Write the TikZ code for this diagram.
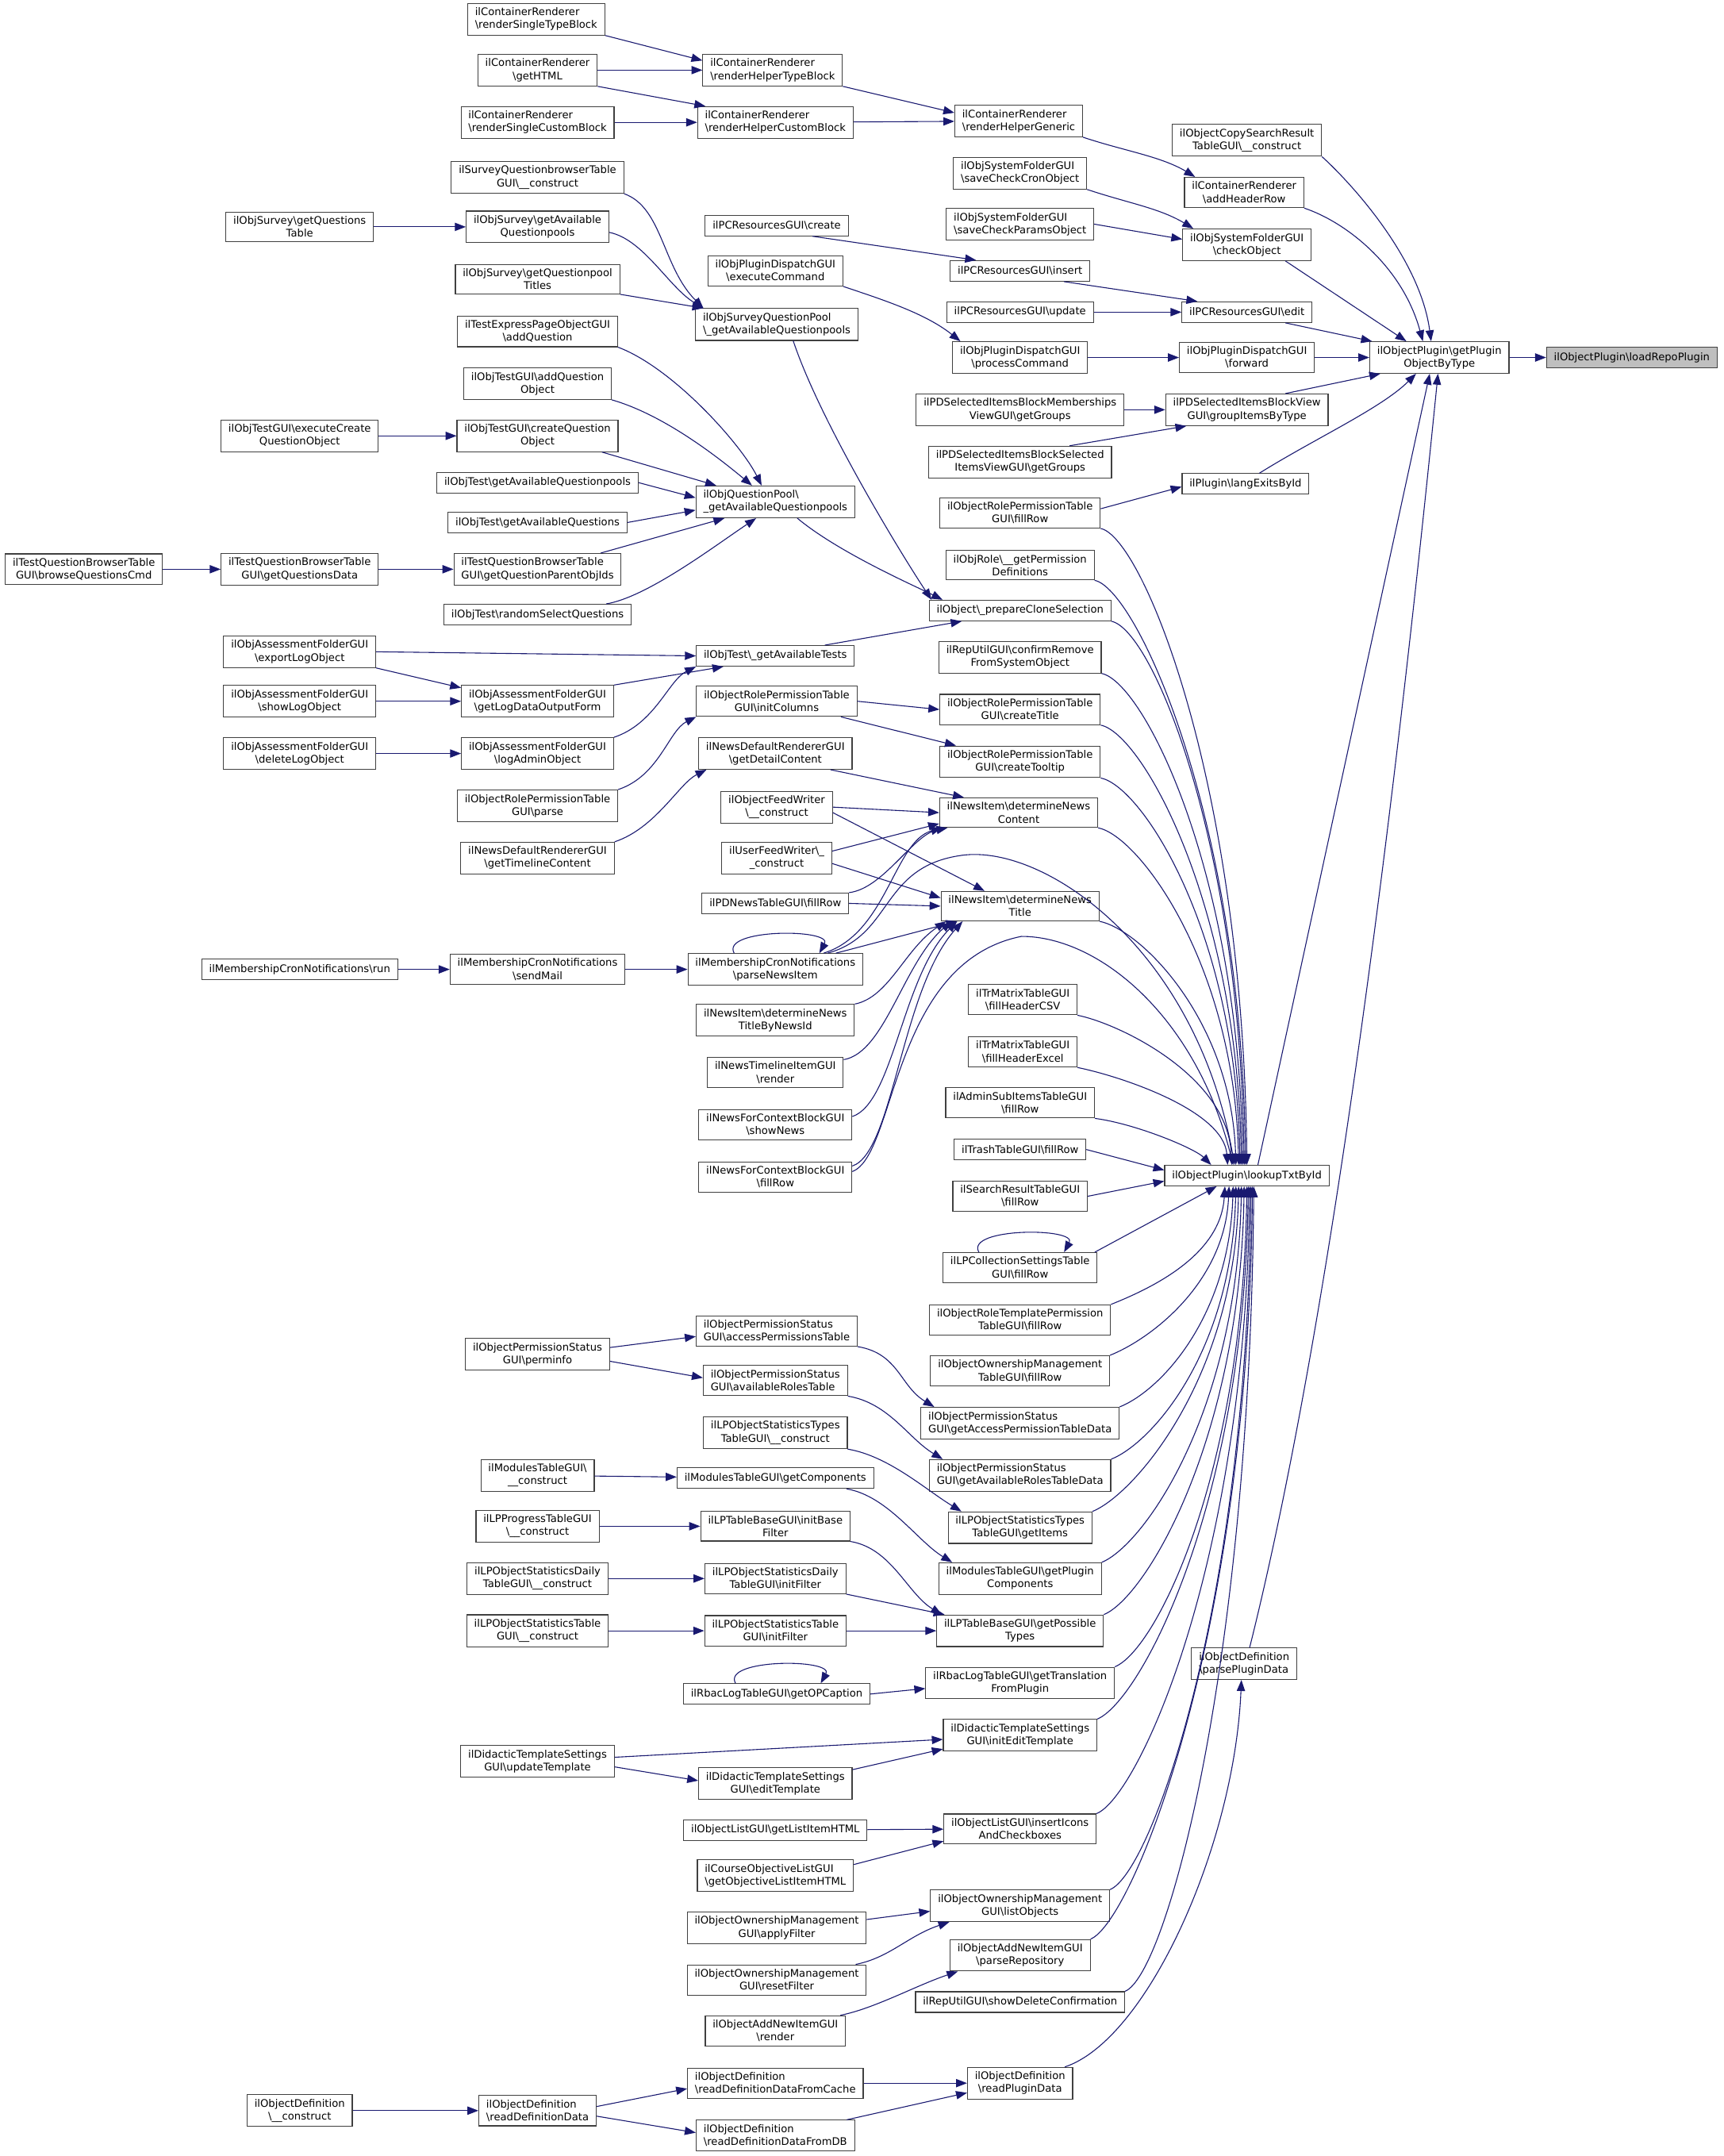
\documentclass[tikz,border=0pt]{standalone}
\usepackage{fontspec}
\setmainfont{DejaVu Sans}
\usetikzlibrary{arrows.meta}
\definecolor{mblau}{HTML}{191970}
\definecolor{rand}{HTML}{404040}
\definecolor{fokus}{HTML}{BFBFBF}
\newcommand{\bs}{\textbackslash}
\begin{document}
\begin{tikzpicture}[x=0.05cm, y=-0.05cm,
    fn/.style={draw=rand, line width=0.9pt, fill=white, align=center,
      font=\fontsize{10.8}{13.2}\selectfont, inner xsep=0.27cm, inner ysep=4.5pt,
      minimum height=0.75cm},
    fnl/.style={fn, align=left},
    fokusfn/.style={fn, fill=fokus},
    kante/.style={-{Triangle[length=0.4cm,width=0.3cm]}, mblau, line width=0.9pt}]
    \useasboundingbox (0,0) rectangle (1254,1568);

    % Zielfunktion und getPluginObjectByType
    \node[fokusfn] (load) at (1187,260) {ilObjectPlugin\bs loadRepoPlugin};
    \node[fn] (getobj) at (1047,260) {ilObjectPlugin\bs getPlugin\\ObjectByType};

    % Spalte 2
    \node[fn] (copysr) at (907,102) {ilObjectCopySearchResult\\TableGUI\bs\_\_construct};
    \node[fn] (addhdr) at (905,140) {ilContainerRenderer\\\bs addHeaderRow};
    \node[fn] (checkobj) at (907,178) {ilObjSystemFolderGUI\\\bs checkObject};
    \node[fn] (pcedit) at (907,227) {ilPCResourcesGUI\bs edit};
    \node[fn] (forward) at (907,260) {ilObjPluginDispatchGUI\\\bs forward};
    \node[fn] (groupitems) at (907,298) {ilPDSelectedItemsBlockView\\GUI\bs groupItemsByType};
    \node[fn] (langexits) at (906,352) {ilPlugin\bs langExitsById};
    \node[fn] (lookup) at (907,855) {ilObjectPlugin\bs lookupTxtById};
    \node[fnl] (parseplug) at (905,1210) {ilObjectDefinition\\\bs parsePluginData};

    % Spalte 3
    \node[fnl] (rendgen) at (741,88) {ilContainerRenderer\\\bs renderHelperGeneric};
    \node[fnl] (savecron) at (742,126) {ilObjSystemFolderGUI\\\bs saveCheckCronObject};
    \node[fnl] (saveparams) at (742,163) {ilObjSystemFolderGUI\\\bs saveCheckParamsObject};
    \node[fn] (pcinsert) at (742,197) {ilPCResourcesGUI\bs insert};
    \node[fn] (pcupdate) at (742,227) {ilPCResourcesGUI\bs update};
    \node[fn] (proccmd) at (742,260) {ilObjPluginDispatchGUI\\\bs processCommand};
    \node[fn] (memgroups) at (742,298) {ilPDSelectedItemsBlockMemberships\\ViewGUI\bs getGroups};
    \node[fn] (selgroups) at (742,336) {ilPDSelectedItemsBlockSelected\\ItemsViewGUI\bs getGroups};
    \node[fn] (rpfillrow) at (742,373) {ilObjectRolePermissionTable\\GUI\bs fillRow};
    \node[fn] (getpermdef) at (742,411) {ilObjRole\bs\_\_getPermission\\Definitions};
    \node[fn] (clonesel) at (742,444) {ilObject\bs\_prepareCloneSelection};
    \node[fn] (confirmrm) at (742,478) {ilRepUtilGUI\bs confirmRemove\\FromSystemObject};
    \node[fn] (createtitle) at (742,516) {ilObjectRolePermissionTable\\GUI\bs createTitle};
    \node[fn] (createtip) at (742,554) {ilObjectRolePermissionTable\\GUI\bs createTooltip};
    \node[fn] (newscontent) at (741,591) {ilNewsItem\bs determineNews\\Content};
    \node[fn] (newstitle) at (742,659) {ilNewsItem\bs determineNews\\Title};
    \node[fn] (hdrcsv) at (744,727) {ilTrMatrixTableGUI\\\bs fillHeaderCSV};
    \node[fn] (hdrexcel) at (744,765) {ilTrMatrixTableGUI\\\bs fillHeaderExcel};
    \node[fn] (adminfill) at (742,802) {ilAdminSubItemsTableGUI\\\bs fillRow};
    \node[fn] (trashfill) at (742,836) {ilTrashTableGUI\bs fillRow};
    \node[fn] (searchfill) at (742,870) {ilSearchResultTableGUI\\\bs fillRow};
    \node[fn] (lpcollfill) at (742,922) {ilLPCollectionSettingsTable\\GUI\bs fillRow};
    \node[fn] (rtplfill) at (742,960) {ilObjectRoleTemplatePermission\\TableGUI\bs fillRow};
    \node[fn] (ownfill) at (742,997) {ilObjectOwnershipManagement\\TableGUI\bs fillRow};
    \node[fnl] (accessdata) at (742,1035) {ilObjectPermissionStatus\\GUI\bs getAccessPermissionTableData};
    \node[fnl] (rolesdata) at (742,1073) {ilObjectPermissionStatus\\GUI\bs getAvailableRolesTableData};
    \node[fn] (statitems) at (742,1111) {ilLPObjectStatisticsTypes\\TableGUI\bs getItems};
    \node[fn] (plugincomp) at (742,1148) {ilModulesTableGUI\bs getPlugin\\Components};
    \node[fn] (posstypes) at (742,1186) {ilLPTableBaseGUI\bs getPossible\\Types};
    \node[fn] (transplug) at (742,1224) {ilRbacLogTableGUI\bs getTranslation\\FromPlugin};
    \node[fn] (initedit) at (742,1262) {ilDidacticTemplateSettings\\GUI\bs initEditTemplate};
    \node[fn] (inserticons) at (742,1330) {ilObjectListGUI\bs insertIcons\\AndCheckboxes};
    \node[fn] (listobjs) at (742,1386) {ilObjectOwnershipManagement\\GUI\bs listObjects};
    \node[fn] (parserepo) at (742,1422) {ilObjectAddNewItemGUI\\\bs parseRepository};
    \node[fn] (showdel) at (742,1456) {ilRepUtilGUI\bs showDeleteConfirmation};
    \node[fn] (readplug) at (742,1515) {ilObjectDefinition\\\bs readPluginData};

    % Spalte 4
    \node[fnl] (rendtype) at (562,51) {ilContainerRenderer\\\bs renderHelperTypeBlock};
    \node[fnl] (rendcustom) at (564,89) {ilContainerRenderer\\\bs renderHelperCustomBlock};
    \node[fn] (pccreate) at (565,164) {ilPCResourcesGUI\bs create};
    \node[fn] (execcmd) at (564,197) {ilObjPluginDispatchGUI\\\bs executeCommand};
    \node[fnl] (svyqpools) at (565,236) {ilObjSurveyQuestionPool\\\bs\_getAvailableQuestionpools};
    \node[fnl] (qpools) at (564,365) {ilObjQuestionPool\bs\\\_getAvailableQuestionpools};
    \node[fn] (availtests) at (564,477) {ilObjTest\bs\_getAvailableTests};
    \node[fn] (initcols) at (565,510) {ilObjectRolePermissionTable\\GUI\bs initColumns};
    \node[fn] (detailcont) at (564,548) {ilNewsDefaultRendererGUI\\\bs getDetailContent};
    \node[fn] (objfeed) at (565,587) {ilObjectFeedWriter\\\bs\_\_construct};
    \node[fn] (userfeed) at (565,624) {ilUserFeedWriter\bs\_\\\_construct};
    \node[fn] (pdnewsfill) at (564,657) {ilPDNewsTableGUI\bs fillRow};
    \node[fn] (parsenews) at (564,705) {ilMembershipCronNotifications\\\bs parseNewsItem};
    \node[fn] (titlebyid) at (564,742) {ilNewsItem\bs determineNews\\TitleByNewsId};
    \node[fn] (timeline) at (564,780) {ilNewsTimelineItemGUI\\\bs render};
    \node[fn] (shownews) at (564,818) {ilNewsForContextBlockGUI\\\bs showNews};
    \node[fn] (ctxfill) at (564,856) {ilNewsForContextBlockGUI\\\bs fillRow};
    \node[fnl] (accesstab) at (565,968) {ilObjectPermissionStatus\\GUI\bs accessPermissionsTable};
    \node[fnl] (rolestab) at (564,1004) {ilObjectPermissionStatus\\GUI\bs availableRolesTable};
    \node[fn] (statconstr) at (564,1042) {ilLPObjectStatisticsTypes\\TableGUI\bs\_\_construct};
    \node[fn] (getcomp) at (564,1075) {ilModulesTableGUI\bs getComponents};
    \node[fn] (initbase) at (564,1110) {ilLPTableBaseGUI\bs initBase\\Filter};
    \node[fn] (dailyinit) at (564,1148) {ilLPObjectStatisticsDaily\\TableGUI\bs initFilter};
    \node[fn] (tableinit) at (564,1186) {ilLPObjectStatisticsTable\\GUI\bs initFilter};
    \node[fn] (opcaption) at (565,1232) {ilRbacLogTableGUI\bs getOPCaption};
    \node[fn] (edittpl) at (564,1297) {ilDidacticTemplateSettings\\GUI\bs editTemplate};
    \node[fn] (listitem) at (564,1331) {ilObjectListGUI\bs getListItemHTML};
    \node[fnl] (objlistitem) at (564,1364) {ilCourseObjectiveListGUI\\\bs getObjectiveListItemHTML};
    \node[fn] (applyfilt) at (565,1402) {ilObjectOwnershipManagement\\GUI\bs applyFilter};
    \node[fn] (resetfilt) at (565,1440) {ilObjectOwnershipManagement\\GUI\bs resetFilter};
    \node[fn] (addrender) at (564,1477) {ilObjectAddNewItemGUI\\\bs render};
    \node[fnl] (defcache) at (564,1515) {ilObjectDefinition\\\bs readDefinitionDataFromCache};
    \node[fnl] (defdb) at (564,1553) {ilObjectDefinition\\\bs readDefinitionDataFromDB};

    % Spalte 5
    \node[fnl] (singletype) at (390,14) {ilContainerRenderer\\\bs renderSingleTypeBlock};
    \node[fn] (gethtml) at (391,51) {ilContainerRenderer\\\bs getHTML};
    \node[fnl] (singlecustom) at (391,89) {ilContainerRenderer\\\bs renderSingleCustomBlock};
    \node[fn] (svybrowser) at (391,129) {ilSurveyQuestionbrowserTable\\GUI\bs\_\_construct};
    \node[fn] (svyavail) at (391,165) {ilObjSurvey\bs getAvailable\\Questionpools};
    \node[fn] (svytitles) at (391,203) {ilObjSurvey\bs getQuestionpool\\Titles};
    \node[fn] (expressadd) at (391,241) {ilTestExpressPageObjectGUI\\\bs addQuestion};
    \node[fn] (addqobj) at (391,279) {ilObjTestGUI\bs addQuestion\\Object};
    \node[fn] (createqobj) at (391,317) {ilObjTestGUI\bs createQuestion\\Object};
    \node[fn] (testqpools) at (391,351) {ilObjTest\bs getAvailableQuestionpools};
    \node[fn] (testquest) at (391,380) {ilObjTest\bs getAvailableQuestions};
    \node[fnl] (parentids) at (391,414) {ilTestQuestionBrowserTable\\GUI\bs getQuestionParentObjIds};
    \node[fn] (randsel) at (391,447) {ilObjTest\bs randomSelectQuestions};
    \node[fn] (logform) at (391,510) {ilObjAssessmentFolderGUI\\\bs getLogDataOutputForm};
    \node[fn] (logadmin) at (391,548) {ilObjAssessmentFolderGUI\\\bs logAdminObject};
    \node[fn] (rpparse) at (391,586) {ilObjectRolePermissionTable\\GUI\bs parse};
    \node[fn] (timelinecont) at (391,624) {ilNewsDefaultRendererGUI\\\bs getTimelineContent};
    \node[fn] (sendmail) at (391,705) {ilMembershipCronNotifications\\\bs sendMail};
    \node[fn] (perminfo) at (391,985) {ilObjectPermissionStatus\\GUI\bs perminfo};
    \node[fn] (modconstr) at (391,1073) {ilModulesTableGUI\bs\\\_\_construct};
    \node[fn] (progconstr) at (391,1110) {ilLPProgressTableGUI\\\bs\_\_construct};
    \node[fn] (dailyconstr) at (391,1148) {ilLPObjectStatisticsDaily\\TableGUI\bs\_\_construct};
    \node[fn] (tableconstr) at (391,1186) {ilLPObjectStatisticsTable\\GUI\bs\_\_construct};
    \node[fn] (updtpl) at (391,1281) {ilDidacticTemplateSettings\\GUI\bs updateTemplate};
    \node[fnl] (readdef) at (391,1535) {ilObjectDefinition\\\bs readDefinitionData};

    % Spalte 6 und 7
    \node[fn] (qtable) at (218,165) {ilObjSurvey\bs getQuestions\\Table};
    \node[fn] (execcreate) at (218,317) {ilObjTestGUI\bs executeCreate\\QuestionObject};
    \node[fn] (qdata) at (218,414) {ilTestQuestionBrowserTable\\GUI\bs getQuestionsData};
    \node[fn] (exportlog) at (218,474) {ilObjAssessmentFolderGUI\\\bs exportLogObject};
    \node[fn] (showlog) at (218,510) {ilObjAssessmentFolderGUI\\\bs showLogObject};
    \node[fn] (deletelog) at (218,548) {ilObjAssessmentFolderGUI\\\bs deleteLogObject};
    \node[fn] (cronrun) at (218,705) {ilMembershipCronNotifications\bs run};
    \node[fn] (defconstr) at (218,1535) {ilObjectDefinition\\\bs\_\_construct};
    \node[fn] (browsecmd) at (61,414) {ilTestQuestionBrowserTable\\GUI\bs browseQuestionsCmd};

    % Kanten zu getPluginObjectByType
    \draw[kante] (getobj) -- (load);
    \draw[kante] (copysr.south east) .. controls +(22,20) and +(-8,-60) .. ([xshift=-0.3cm]getobj.north);
    \draw[kante] (addhdr.south east) .. controls +(30,10) and +(-15,-55) .. ([xshift=-0.6cm]getobj.north);
    \draw[kante] ([xshift=1.4cm]checkobj.south) -- ([xshift=-1.2cm]getobj.north);
    \draw[kante] ([xshift=1.4cm]pcedit.south) -- ([xshift=0.1cm]getobj.north west);
    \draw[kante] (forward) -- (getobj);
    \draw[kante] ([xshift=1.4cm]groupitems.north) -- ([xshift=0.4cm]getobj.south west);
    \draw[kante] ([xshift=0.5cm]langexits.north) .. controls +(40,-25) and +(-25,25) .. ([xshift=-0.85cm]getobj.south);
    \draw[kante] ([xshift=0.4cm]lookup.north) -- ([xshift=-0.35cm]getobj.south);
    \draw[kante] ([xshift=0.2cm]parseplug.north) .. controls +(65,-260) and +(-25,250) .. ([xshift=-0.05cm]getobj.south);

    % Spalte 3 -> Spalte 2
    \draw[kante] (rendgen.south east) .. controls +(30,10) and +(-25,-15) .. ([xshift=0.4cm]addhdr.north west);
    \draw[kante] (savecron.south east) .. controls +(30,10) and +(-25,-15) .. ([xshift=0.4cm]checkobj.north west);
    \draw[kante] (saveparams.east) -- ([yshift=0.2cm]checkobj.west);
    \draw[kante] ([xshift=1.6cm]pcinsert.south) -- ([xshift=-1.8cm]pcedit.north);
    \draw[kante] (pcupdate) -- (pcedit);
    \draw[kante] (proccmd) -- (forward);
    \draw[kante] (memgroups) -- (groupitems);
    \draw[kante] ([xshift=1.8cm]selgroups.north) -- ([xshift=-2.2cm]groupitems.south);
    \draw[kante] ([yshift=0.15cm]rpfillrow.east) -- ([yshift=-0.1cm]langexits.west);
    \draw[kante] ([xshift=-0.3cm]readplug.north east) .. controls +(60,-20) and +(-5,120) .. ([xshift=-0.1cm]parseplug.south);

    % Kanten zu lookupTxtById
    \foreach \q/\dx/\h in {rpfillrow/0/280, getpermdef/-0.05/255, clonesel/-0.1/235,
        confirmrm/-0.15/215, createtitle/-0.2/190, createtip/-0.25/170,
        newscontent/-0.3/145, newstitle/-0.4/105, hdrcsv/-0.55/65, hdrexcel/-0.7/40}
      \draw[kante] (\q.south east) .. controls +(30,6) and +(-3,-\h) .. ([xshift=\dx*1cm]lookup.north);
    \draw[kante] (adminfill.south east) .. controls +(30,4) and +(-12,-12) .. ([xshift=-1.3cm]lookup.north);
    \draw[kante] (trashfill.east) -- ([yshift=0.2cm]lookup.west);
    \draw[kante] (searchfill.east) -- ([yshift=-0.2cm]lookup.west);
    \draw[kante] ([xshift=-0.1cm]lpcollfill.north east) -- ([xshift=-1.1cm]lookup.south);
    \foreach \q/\dx/\h in {rtplfill/-0.8/50, ownfill/-0.65/70, accessdata/-0.5/95, rolesdata/-0.4/120,
        statitems/-0.3/140, plugincomp/-0.2/165, posstypes/-0.1/185, transplug/0/210,
        initedit/0.05/235, inserticons/0.1/275, listobjs/0.15/305, parserepo/0.2/330, showdel/0.25/350}
      \draw[kante] (\q.north east) .. controls +(30,-12) and +(-3,\h) .. ([xshift=\dx*1cm]lookup.south);
    \draw[kante] ([xshift=1.9cm]parsenews.north) .. controls (650,680) and (640,630) .. (700,622)
        .. controls (760,614) and (870,690) .. ([xshift=-0.45cm]lookup.north);
    \draw[kante] ([yshift=0.2cm]ctxfill.east) .. controls (652,840) and (648,700) .. (743,681)
        .. controls (800,681) and (870,740) .. ([xshift=-0.5cm]lookup.north);

    % Schleifen
    \draw[kante] ([xshift=-1.5cm]lpcollfill.north) .. controls +(-10,-18) and +(10,-18) .. ([xshift=1.6cm]lpcollfill.north);
    \draw[kante] ([xshift=-1.5cm]parsenews.north) .. controls +(-10,-18) and +(10,-18) .. ([xshift=1.6cm]parsenews.north);
    \draw[kante] ([xshift=-1.5cm]opcaption.north) .. controls +(-10,-18) and +(10,-18) .. ([xshift=1.6cm]opcaption.north);

    % Spalte 4 -> Spalte 3
    \draw[kante] (rendtype.south east) -- ([yshift=0.3cm]rendgen.west);
    \draw[kante] (rendcustom) -- (rendgen);
    \draw[kante] ([xshift=1.3cm]pccreate.south) -- ([xshift=-1.6cm]pcinsert.north);
    \draw[kante] (execcmd.south east) .. controls +(30,10) and +(-25,-20) .. ([xshift=0.3cm]proccmd.north west);
    \draw[kante] ([xshift=0.6cm]svyqpools.south) .. controls +(20,60) and +(-20,-30) .. ([xshift=0.1cm]clonesel.north west);
    \draw[kante] ([xshift=0.8cm]qpools.south) .. controls +(30,25) and +(-20,-10) .. ([xshift=0.5cm]clonesel.north west);
    \draw[kante] ([xshift=1.8cm]availtests.north) -- ([xshift=1.2cm]clonesel.south west);
    \draw[kante] (initcols.east) -- (createtitle.west);
    \draw[kante] ([xshift=-0.6cm]initcols.south east) -- ([xshift=0.6cm]createtip.north west);
    \draw[kante] ([xshift=-0.8cm]detailcont.south east) -- ([xshift=0.9cm]newscontent.north west);
    \draw[kante] (objfeed.east) -- (newscontent.west);
    \draw[kante] ([yshift=-0.2cm]objfeed.east) -- ([xshift=1.6cm]newstitle.north west);
    \draw[kante] ([yshift=0.25cm]userfeed.east) -- ([yshift=-0.4cm]newscontent.west);
    \draw[kante] ([yshift=-0.2cm]userfeed.east) -- ([yshift=0.3cm]newstitle.west);
    \draw[kante] (pdnewsfill.north east) .. controls +(25,-3) and +(-25,5) .. ([xshift=0.3cm]newscontent.south west);
    \draw[kante] (pdnewsfill.east) -- (newstitle.west);
    \draw[kante] ([xshift=1.75cm]parsenews.north) .. controls +(46,-14) and +(-35,10) .. ([xshift=0.1cm]newscontent.south west);
    \draw[kante] ([xshift=2.2cm]parsenews.north) -- ([xshift=0.6cm]newstitle.south west);
    \draw[kante] (titlebyid.north east) .. controls +(25,-5) and +(-30,20) .. ([xshift=0.2cm]newstitle.south west);
    \draw[kante] ([yshift=-0.1cm]timeline.north east) .. controls +(30,-5) and +(-35,30) .. ([xshift=0.4cm]newstitle.south west);
    \draw[kante] ([yshift=0.3cm]shownews.east) .. controls +(30,-10) and +(-40,40) .. ([xshift=0.6cm]newstitle.south west);
    \draw[kante] ([yshift=0.4cm]ctxfill.east) .. controls +(30,-10) and +(-45,50) .. ([xshift=0.8cm]newstitle.south west);
    \draw[kante] (accesstab.south east) .. controls +(30,5) and +(-25,-15) .. ([xshift=0.5cm]accessdata.north west);
    \draw[kante] (rolestab.south east) .. controls +(30,5) and +(-25,-15) .. ([xshift=0.5cm]rolesdata.north west);
    \draw[kante] (statconstr.south east) .. controls +(30,5) and +(-25,-15) .. ([xshift=0.5cm]statitems.north west);
    \draw[kante] ([xshift=-1cm]getcomp.south east) .. controls +(30,5) and +(-25,-15) .. ([xshift=0.5cm]plugincomp.north west);
    \draw[kante] (initbase.south east) .. controls +(30,5) and +(-25,-15) .. ([xshift=0.2cm]posstypes.north west);
    \draw[kante] (dailyinit.south east) -- ([xshift=0.3cm]posstypes.north west);
    \draw[kante] (tableinit) -- (posstypes);
    \draw[kante] (opcaption.east) -- ([yshift=-0.2cm]transplug.west);
    \draw[kante] ([yshift=0.5cm]edittpl.east) -- ([yshift=-0.5cm]initedit.west);
    \draw[kante] (listitem) -- (inserticons);
    \draw[kante] ([yshift=0.4cm]objlistitem.east) -- ([yshift=-0.45cm]inserticons.west);
    \draw[kante] ([yshift=0.3cm]applyfilt.east) -- ([yshift=-0.2cm]listobjs.west);
    \draw[kante] ([xshift=-0.4cm]resetfilt.north east) .. controls +(25,-5) and +(-30,10) .. ([xshift=0.7cm]listobjs.south west);
    \draw[kante] ([xshift=-0.2cm]addrender.north east) .. controls +(25,-5) and +(-30,10) .. ([xshift=0.3cm]parserepo.south west);
    \draw[kante] (defcache) -- (readplug);
    \draw[kante] ([xshift=-0.3cm]defdb.north east) -- ([yshift=-0.35cm]readplug.west);

    % Spalte 5 -> Spalte 4
    \draw[kante] (singletype.south east) -- ([yshift=0.35cm]rendtype.west);
    \draw[kante] (gethtml) -- (rendtype);
    \draw[kante] (gethtml.south east) -- ([xshift=0.3cm]rendcustom.north west);
    \draw[kante] (singlecustom) -- (rendcustom);
    \draw[kante] (svybrowser.south east) .. controls +(28,10) and +(-30,-30) .. ([xshift=0.3cm]svyqpools.north west);
    \draw[kante] ([yshift=-0.2cm]svyavail.east) .. controls +(25,5) and +(-25,-15) .. ([xshift=0.3cm]svyqpools.north west);
    \draw[kante] (svytitles.south east) -- ([xshift=0.3cm]svyqpools.north west);
    \draw[kante] (expressadd.south east) .. controls +(40,15) and +(-15,-30) .. ([xshift=-0.5cm]qpools.north);
    \draw[kante] (addqobj.south east) .. controls +(35,10) and +(-30,-25) .. ([xshift=-0.85cm]qpools.north);
    \draw[kante] ([xshift=-0.6cm]createqobj.south east) -- ([xshift=-2.15cm]qpools.north);
    \draw[kante] (testqpools.east) -- ([yshift=0.15cm]qpools.west);
    \draw[kante] (testquest.east) -- ([yshift=-0.3cm]qpools.west);
    \draw[kante] ([xshift=2.3cm]parentids.north) -- ([xshift=-1.85cm]qpools.south);
    \draw[kante] ([xshift=2.5cm]randsel.north) .. controls +(30,-5) and +(-30,20) .. ([xshift=-0.7cm]qpools.south);
    \draw[kante] (exportlog.east) -- (availtests.west);
    \draw[kante] (exportlog.south east) -- ([yshift=-0.1cm]logform.north west);
    \draw[kante] (showlog) -- (logform);
    \draw[kante] (deletelog) -- (logadmin);
    \draw[kante] (logform.north east) -- ([xshift=1cm]availtests.south west);
    \draw[kante] (logadmin.north east) .. controls +(30,-10) and +(-20,10) .. (availtests.south west);
    \draw[kante] (rpparse.north east) .. controls +(30,-10) and +(-20,10) .. (initcols.south west);
    \draw[kante] (timelinecont.north east) .. controls +(30,-10) and +(-20,10) .. ([xshift=0.3cm]detailcont.south west);
    \draw[kante] (sendmail) -- (parsenews);
    \draw[kante] ([yshift=0.25cm]perminfo.east) -- ([yshift=-0.2cm]accesstab.west);
    \draw[kante] ([yshift=-0.25cm]perminfo.east) -- ([yshift=0.1cm]rolestab.west);
    \draw[kante] (modconstr) -- (getcomp);
    \draw[kante] (progconstr) -- (initbase);
    \draw[kante] (dailyconstr) -- (dailyinit);
    \draw[kante] (tableconstr) -- (tableinit);
    \draw[kante] ([yshift=0.15cm]updtpl.east) -- ([yshift=-0.15cm]initedit.west);
    \draw[kante] ([yshift=-0.2cm]updtpl.east) -- ([yshift=0.1cm]edittpl.west);
    \draw[kante] ([yshift=0.15cm]readdef.east) -- ([yshift=-0.2cm]defcache.west);
    \draw[kante] ([yshift=-0.2cm]readdef.east) -- ([yshift=0.1cm]defdb.west);

    % Spalte 6 und 7
    \draw[kante] (qtable) -- (svyavail);
    \draw[kante] (execcreate) -- (createqobj);
    \draw[kante] (qdata) -- (parentids);
    \draw[kante] (browsecmd) -- (qdata);
    \draw[kante] (cronrun) -- (sendmail);
    \draw[kante] (defconstr) -- (readdef);
\end{tikzpicture}
\end{document}
